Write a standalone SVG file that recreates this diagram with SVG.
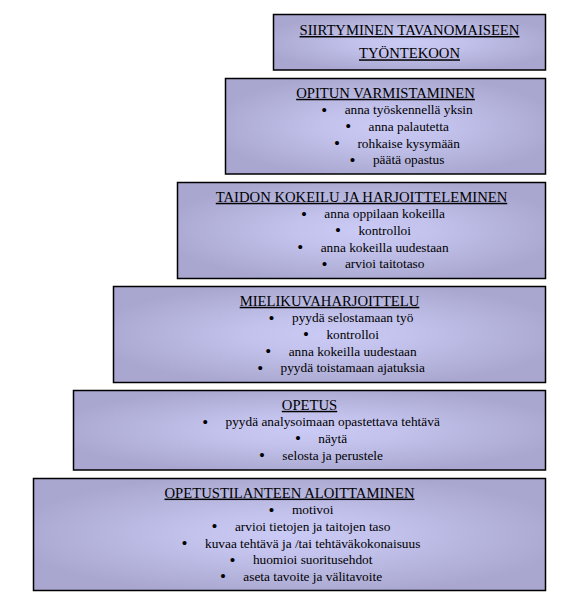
<svg xmlns="http://www.w3.org/2000/svg" width="562" height="608" viewBox="0 0 562 608">
<style>
.box{fill:url(#g);stroke:#000;stroke-width:1.5}
text{font-family:"Liberation Serif","Times New Roman",serif;fill:#000}
.t{font-size:14.67px;text-anchor:middle;text-decoration:underline}
.i{font-size:13.33px;text-anchor:middle}
.b{font-size:17px}
</style>
<defs>
<radialGradient id="g" cx="50%" cy="50%" r="55%">
<stop offset="0" stop-color="#cacaf6"/>
<stop offset="0.35" stop-color="#c2c2ec"/>
<stop offset="1" stop-color="#a9a7cf"/>
</radialGradient>
</defs>
<g id="connectors"/>
<g id="n1">
<rect class="box" x="273.5" y="14.5" width="272" height="55.5"/>
<text class="t" x="409.5" y="35">SIIRTYMINEN TAVANOMAISEEN</text>
<text class="t" x="409.5" y="58.3">TYÖNTEKOON</text>
</g>
<g id="n2">
<rect class="box" x="225.5" y="78.5" width="320" height="95.5"/>
<text class="t" x="385.5" y="97.8">OPITUN VARMISTAMINEN</text>
<text class="i" x="397" y="114.4"><tspan class="b" dy="1.3">•</tspan><tspan dx="17.4" dy="-1.3">anna työskennellä yksin</tspan></text>
<text class="i" x="397" y="131.1"><tspan class="b" dy="1.3">•</tspan><tspan dx="17.4" dy="-1.3">anna palautetta</tspan></text>
<text class="i" x="397" y="147.8"><tspan class="b" dy="1.3">•</tspan><tspan dx="17.4" dy="-1.3">rohkaise kysymään</tspan></text>
<text class="i" x="397" y="164.4"><tspan class="b" dy="1.3">•</tspan><tspan dx="17.4" dy="-1.3">päätä opastus</tspan></text>
</g>
<g id="n3">
<rect class="box" x="177.5" y="182.5" width="368" height="96"/>
<text class="t" x="361.5" y="201.8">TAIDON KOKEILU JA HARJOITTELEMINEN</text>
<text class="i" x="373" y="218.4"><tspan class="b" dy="1.3">•</tspan><tspan dx="17.4" dy="-1.3">anna oppilaan kokeilla</tspan></text>
<text class="i" x="373" y="235.1"><tspan class="b" dy="1.3">•</tspan><tspan dx="17.4" dy="-1.3">kontrolloi</tspan></text>
<text class="i" x="373" y="251.8"><tspan class="b" dy="1.3">•</tspan><tspan dx="17.4" dy="-1.3">anna kokeilla uudestaan</tspan></text>
<text class="i" x="373" y="268.4"><tspan class="b" dy="1.3">•</tspan><tspan dx="17.4" dy="-1.3">arvioi taitotaso</tspan></text>
</g>
<g id="n4">
<rect class="box" x="113.5" y="286.5" width="432" height="96"/>
<text class="t" x="329.5" y="305.8">MIELIKUVAHARJOITTELU</text>
<text class="i" x="341" y="322.4"><tspan class="b" dy="1.3">•</tspan><tspan dx="17.4" dy="-1.3">pyydä selostamaan työ</tspan></text>
<text class="i" x="341" y="339.1"><tspan class="b" dy="1.3">•</tspan><tspan dx="17.4" dy="-1.3">kontrolloi</tspan></text>
<text class="i" x="341" y="355.8"><tspan class="b" dy="1.3">•</tspan><tspan dx="17.4" dy="-1.3">anna kokeilla uudestaan</tspan></text>
<text class="i" x="341" y="372.4"><tspan class="b" dy="1.3">•</tspan><tspan dx="17.4" dy="-1.3">pyydä toistamaan ajatuksia</tspan></text>
</g>
<g id="n5">
<rect class="box" x="73.5" y="390.5" width="472" height="79.5"/>
<text class="t" x="309.5" y="409.8">OPETUS</text>
<text class="i" x="321" y="426.4"><tspan class="b" dy="1.3">•</tspan><tspan dx="17.4" dy="-1.3">pyydä analysoimaan opastettava tehtävä</tspan></text>
<text class="i" x="321" y="443.1"><tspan class="b" dy="1.3">•</tspan><tspan dx="17.4" dy="-1.3">näytä</tspan></text>
<text class="i" x="321" y="459.8"><tspan class="b" dy="1.3">•</tspan><tspan dx="17.4" dy="-1.3">selosta ja perustele</tspan></text>
</g>
<g id="n6">
<rect class="box" x="33.5" y="478.5" width="512" height="112"/>
<text class="t" x="289.5" y="497.6">OPETUSTILANTEEN ALOITTAMINEN</text>
<text class="i" x="301" y="514.2"><tspan class="b" dy="1.3">•</tspan><tspan dx="17.4" dy="-1.3">motivoi</tspan></text>
<text class="i" x="301" y="530.9"><tspan class="b" dy="1.3">•</tspan><tspan dx="17.4" dy="-1.3">arvioi tietojen ja taitojen taso</tspan></text>
<text class="i" x="301" y="547.6"><tspan class="b" dy="1.3">•</tspan><tspan dx="17.4" dy="-1.3">kuvaa tehtävä ja /tai tehtäväkokonaisuus</tspan></text>
<text class="i" x="301" y="564.2"><tspan class="b" dy="1.3">•</tspan><tspan dx="17.4" dy="-1.3">huomioi suoritusehdot</tspan></text>
<text class="i" x="301" y="580.9"><tspan class="b" dy="1.3">•</tspan><tspan dx="17.4" dy="-1.3">aseta tavoite ja välitavoite</tspan></text>
</g>
</svg>
